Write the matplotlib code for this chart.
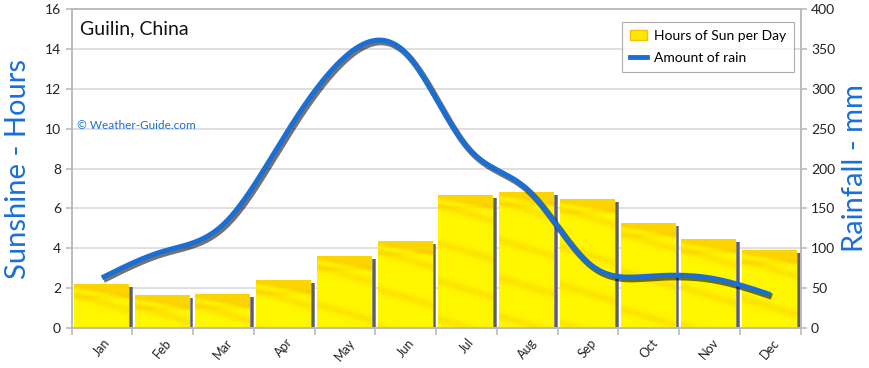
import numpy as np
import matplotlib
matplotlib.use("Agg")
import matplotlib.pyplot as plt
from matplotlib.patches import Rectangle, Patch
from matplotlib.lines import Line2D
import matplotlib.patheffects as pe

months = ["Jan", "Feb", "Mar", "Apr", "May", "Jun", "Jul", "Aug", "Sep", "Oct", "Nov", "Dec"]
sun_hours = [2.2, 1.65, 1.7, 2.4, 3.6, 4.35, 6.65, 6.8, 6.45, 5.25, 4.45, 3.9]
rain_mm = [63, 96, 130, 240, 340, 345, 228, 174, 82, 65, 63, 42]
left_ticks = [0, 2, 4, 6, 8, 10, 12, 14, 16]
right_ticks = [0, 50, 100, 150, 200, 250, 300, 350, 400]

BLUE = "#1a6fd6"
plt.rcParams['font.family'] = ['Lato', 'DejaVu Sans']


def natural_spline(x, y, n=400):
    x = np.asarray(x, float); y = np.asarray(y, float)
    k = len(x); h = np.diff(x)
    A = np.zeros((k, k)); b = np.zeros(k)
    A[0, 0] = A[-1, -1] = 1
    for i in range(1, k - 1):
        A[i, i - 1] = h[i - 1]; A[i, i] = 2 * (h[i - 1] + h[i]); A[i, i + 1] = h[i]
        b[i] = 3 * ((y[i + 1] - y[i]) / h[i] - (y[i] - y[i - 1]) / h[i - 1])
    c = np.linalg.solve(A, b)
    bb = (np.diff(y) / h) - h * (2 * c[:-1] + c[1:]) / 3
    d = np.diff(c) / (3 * h)
    xs = np.linspace(x[0], x[-1], n)
    idx = np.clip(np.searchsorted(x, xs) - 1, 0, k - 2)
    dx = xs - x[idx]
    ys = y[idx] + bb[idx] * dx + c[idx] * dx ** 2 + d[idx] * dx ** 3
    return xs, ys


def bar_texture(hpx, wpx=54):
    yy, xx = np.mgrid[0:hpx, 0:wpx].astype(float)
    yellow = np.array([1.0, 0.97, 0.0])
    orange = np.array([0.98, 0.72, 0.0])
    # thin orange band near top with diagonal edge
    edge = 4 + xx * 0.18
    band = np.clip((edge - yy) / 4.0 + 0.4, 0, 1) * 0.55
    band += np.clip(1 - np.abs(yy - 12) / 4.0, 0, 1) * 0.2
    # diagonal streaks
    s = 0.5 + 0.5 * np.sin((yy - xx * 0.3) / 6.0)
    streak = (s ** 8) * 0.3
    f = np.clip(band + streak, 0, 1)[..., None]
    return yellow * (1 - f) + orange * f


fig = plt.figure(figsize=(8.7, 3.68), dpi=100)
ax = fig.add_axes([0.0822, 0.1087, 0.838, 0.8668])
ax2 = ax.twinx()

x = np.arange(len(months))
ax.set_xlim(-0.5, len(months) - 0.5)
ax.set_ylim(0, 16)
ax.set_yticks(left_ticks)
for t in left_ticks[1:]:
    ax.axhline(t, color="#d9d9d9", lw=1.2, zorder=0)

px_per_h = 319 / 16.0
for i, h in enumerate(sun_hours):
    x0 = i - 0.5 + 0.04
    x1 = i - 0.5 + 0.93
    # shadow
    ax.add_patch(Rectangle((x1 + 0.015, 0), 0.06, h - 0.13, color="#8a8a8a", zorder=1, lw=0))
    ax.add_patch(Rectangle((x1 + 0.03, 0), 0.03, h - 0.15, color="#5f5f5f", zorder=1, lw=0))
    tex = bar_texture(max(int(h * px_per_h), 2))
    ax.imshow(tex, extent=(x0, x1, 0, h), aspect="auto", zorder=2, interpolation="bilinear")
ax.set_xlim(-0.5, len(months) - 0.5)
ax.set_ylim(0, 16)

ax.set_xticks(x)
ax.set_xticklabels(months, rotation=50, fontsize=9, color="#222222")
ax.tick_params(axis="x", length=0, pad=6)
ax.set_xticks(np.arange(-0.5, len(months) + 0.5, 1), minor=True)
ax.tick_params(axis="x", which="minor", length=5, color="#bbbbbb", width=1.2)
ax.tick_params(axis="y", labelsize=10, colors="#222222", length=4, color="#bbbbbb", width=1.2)

ax2.set_ylim(0, 400)
ax2.set_yticks(right_ticks)
ax2.tick_params(axis="y", labelsize=10, colors="#222222", length=4, color="#bbbbbb", width=1.2)
xs, ys = natural_spline(x, rain_mm)
ax2.plot(xs, ys, color=BLUE, lw=3.6, solid_capstyle="butt", zorder=5,
         path_effects=[pe.SimpleLineShadow(offset=(1.2, -1.5), shadow_color="black", alpha=0.55, linewidth=4.5),
                       pe.Normal()])

for a in (ax, ax2):
    for s in a.spines.values():
        s.set_color("#bbbbbb")
        s.set_linewidth(1.2)

ax.set_ylabel("Sunshine - Hours", color=BLUE, fontsize=21, labelpad=10)
ax2.set_ylabel("Rainfall - mm", color=BLUE, fontsize=21, labelpad=5)

ax.text(0.012, 0.965, "Guilin, China", transform=ax.transAxes, fontsize=14, va="top", ha="left", color="#111111")
ax.text(0.008, 0.635, "© Weather-Guide.com", transform=ax.transAxes, fontsize=8.5, va="center", ha="left", color=BLUE)

handles = [Patch(facecolor="#ffe800", edgecolor="#f5c000"), Line2D([0], [0], color=BLUE, lw=3.5)]
leg = ax2.legend(handles, ["Hours of Sun per Day", "Amount of rain"], loc="upper right",
                 bbox_to_anchor=(0.991, 0.96), borderaxespad=0, fontsize=10, frameon=True, fancybox=False,
                 edgecolor="#999999", handlelength=1.2, handletextpad=0.5, borderpad=0.6, labelspacing=0.7)
leg.get_frame().set_linewidth(0.8)

fig.savefig("out.png", dpi=100)
